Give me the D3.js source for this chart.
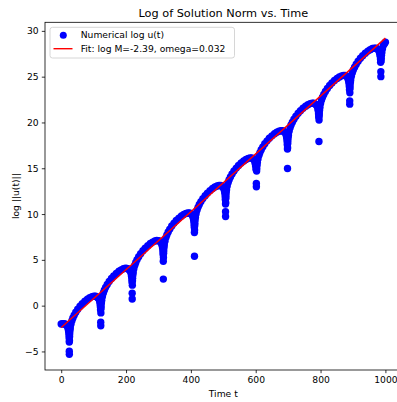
<!DOCTYPE html>
<html><head><meta charset="utf-8">
<script src="https://cdn.jsdelivr.net/npm/d3@7"></script>
<style>body{margin:0;background:#fff}svg{display:block}</style>
</head><body>
<svg id="chart" width="397" height="402"></svg>
<script>
// Sample times t
const timeT = [
  0,4,8,12,15,17,
  20,22,23,23.8,24.3,24.9,24.95,25.05,25.4,25.8,26.2,27,28,30,
  33,36,40,45,51,58,65,73,81,88,95,101,106,110,113,
  117,119,120,120.8,121.3,121.95,122.05,122.4,122.8,123.2,124,125,127,
  130,133,137,142,148,155,162,170,178,185,192,198,203,207,210,
  214,216,217,217.8,218.3,218.95,219.05,219.4,219.8,220.2,221,222,224,
  227,230,234,239,245,252,259,267,275,282,289,295,300,304,307,
  310,312,313,313.8,314.3,314.9,315.05,315.4,315.8,316.2,317,318,320,
  323,326,330,335,341,348,355,363,371,378,385,391,396,400,403,
  406,408,409,409.8,410.3,410.9,411.05,411.4,411.8,412.2,413,414,416,
  419,422,426,431,437,444,451,459,467,474,481,487,492,496,499,
  502,504,505,505.8,506.3,506.9,506.95,507.05,507.4,507.8,508.2,509,510,512,
  515,518,522,527,533,540,547,555,563,570,577,583,588,592,595,
  597,599,600,600.8,601.95,602.05,602.8,603.2,604,605,607,
  610,613,617,622,628,635,642,650,658,665,672,678,683,687,690,
  693,695,696,696.8,697.3,697.9,698.05,698.4,698.8,699.2,700,701,703,
  706,709,713,718,724,731,738,746,754,761,768,774,779,783,786,
  790,792,793,793.8,794.3,795.05,795.4,795.8,796.2,797,798,800,
  803,806,810,815,821,828,835,843,851,858,865,871,876,880,883,
  885,887,888,888.8,889.3,889.95,890.05,890.4,890.8,891.2,892,893,895,
  898,901,905,910,916,923,930,938,946,953,960,966,971,975,978,
  981,983,984,984.8,985.3,985.95,986.05,986.8,987.2,988,989,991,
  994,997,1000
];
// Numerical log ||u(t)|| at those times
const logNorm = [
  -2.0,-1.97,-1.97,-2.0,-2.07,-2.15,
  -2.36,-2.62,-2.85,-3.16,-3.50,-3.98,-4.98,-5.3,-3.83,-3.36,-3.08,-2.73,-2.44,-2.04,
  -1.65,-1.35,-1.04,-0.72,-0.39,-0.07,0.21,0.48,0.71,0.87,0.99,1.04,1.03,0.96,0.86,
  0.68,0.42,0.19,-0.12,-0.46,-1.8,-2.2,-0.79,-0.32,-0.04,0.31,0.60,1.00,
  1.39,1.69,2.00,2.32,2.65,2.97,3.25,3.52,3.75,3.91,4.03,4.08,4.07,4.00,3.90,
  3.71,3.45,3.22,2.91,2.57,1.35,0.73,2.24,2.71,2.99,3.34,3.63,4.03,
  4.42,4.72,5.03,5.35,5.68,6.00,6.28,6.55,6.78,6.94,7.06,7.11,7.10,7.03,6.93,
  6.72,6.46,6.23,5.92,5.58,4.85,2.9,5.25,5.72,6.00,6.35,6.64,7.04,
  7.43,7.73,8.04,8.36,8.69,9.01,9.29,9.56,9.79,9.95,10.07,10.12,10.11,10.04,9.94,
  9.72,9.46,9.23,8.92,8.58,7.98,5.4,8.25,8.72,9.00,9.35,9.64,10.04,
  10.43,10.73,11.04,11.36,11.69,12.01,12.29,12.56,12.79,12.95,13.07,13.12,13.11,13.04,12.94,
  12.73,12.47,12.24,11.93,11.59,11.1,10.25,9.74,11.26,11.73,12.01,12.36,12.65,13.05,
  13.44,13.74,14.05,14.37,14.70,15.02,15.30,15.57,15.80,15.96,16.08,16.13,16.12,16.05,15.95,
  15.70,15.44,15.21,14.90,13.34,12.98,14.70,14.98,15.33,15.62,16.02,
  16.41,16.71,17.02,17.34,17.67,17.99,18.27,18.54,18.77,18.93,19.05,19.10,19.09,19.02,18.92,
  18.71,18.45,18.22,17.91,17.57,17.1,14.97,17.24,17.71,17.99,18.34,18.63,19.03,
  19.42,19.72,20.03,20.35,20.68,21.00,21.28,21.55,21.78,21.94,22.06,22.11,22.10,22.03,21.93,
  21.74,21.48,21.25,20.94,20.60,17.92,20.27,20.74,21.02,21.37,21.66,22.06,
  22.45,22.75,23.06,23.38,23.71,24.03,24.31,24.58,24.81,24.97,25.09,25.14,25.13,25.06,24.96,
  24.72,24.46,24.23,23.92,23.58,22.36,22.0,23.25,23.72,24.00,24.35,24.64,25.04,
  25.43,25.73,26.04,26.36,26.69,27.01,27.29,27.56,27.79,27.95,28.07,28.12,28.11,28.04,27.94,
  27.72,27.46,27.23,26.92,26.58,25.55,25.0,26.72,27.00,27.35,27.64,28.04,
  28.43,28.6,28.75
];
const fitLogM = -2.39;
const fitOmega = 0.0316;
const fitRange = [0, 1000];
const xTicks = [0, 200, 400, 600, 800, 1000];
const yTicks = [-5, 0, 5, 10, 15, 20, 25, 30];
const titleText = "Log of Solution Norm vs. Time";
const xLabelText = "Time t";
const yLabelText = "log ||u(t)||";
const legendLabels = ["Numerical log u(t)", `Fit: log M=${fitLogM.toFixed(2)}, omega=${fitOmega.toFixed(3)}`];

const W = 397, H = 402;
const plot = {left: 45, right: 401.6, top: 22.3, bottom: 370};
const font = "DejaVu Sans, sans-serif";
const svg = d3.select("#chart");

const fitLine = fitRange.map(t => ({t, y: fitLogM + fitOmega * t}));
function padded(ext) { const d = ext[1] - ext[0]; return [ext[0] - 0.05 * d, ext[1] + 0.05 * d]; }
const xExt = d3.extent(timeT.concat(fitRange));
const yExt = d3.extent(logNorm.concat(fitLine.map(d => d.y)));
const x = d3.scaleLinear().domain(padded(xExt)).range([plot.left, plot.right]);
const y = d3.scaleLinear().domain(padded(yExt)).range([plot.bottom, plot.top]);

const pts = timeT.map((t, i) => ({t, v: logNorm[i]}));

const clipId = "plotclip";
svg.append("clipPath").attr("id", clipId).append("rect")
  .attr("x", plot.left).attr("y", plot.top)
  .attr("width", plot.right - plot.left).attr("height", plot.bottom - plot.top);

const g = svg.append("g").attr("clip-path", `url(#${clipId})`);
g.selectAll("circle.pt").data(pts).join("circle").attr("class", "pt")
  .attr("cx", d => x(d.t)).attr("cy", d => y(d.v)).attr("r", 3.7)
  .attr("fill", "#0000ff");
g.append("path").datum(fitLine)
  .attr("d", d3.line().x(d => x(d.t)).y(d => y(d.y)))
  .attr("fill", "none").attr("stroke", "#ff0000").attr("stroke-width", 1.4);

// axes
const fmt = d3.format("d");
const xAxis = svg.append("g").attr("transform", `translate(0,${plot.bottom})`)
  .call(d3.axisBottom(x).tickValues(xTicks).tickFormat(fmt).tickSize(3.2).tickPadding(3.2).tickSizeOuter(0));
const yAxis = svg.append("g").attr("transform", `translate(${plot.left},0)`)
  .call(d3.axisLeft(y).tickValues(yTicks).tickFormat(fmt).tickSize(3.2).tickPadding(3.2).tickSizeOuter(0));
[xAxis, yAxis].forEach(a => {
  a.select(".domain").remove();
  a.selectAll(".tick line").attr("stroke", "#000").attr("stroke-width", 0.8);
  a.selectAll(".tick text").attr("font-family", font).attr("font-size", 9.2).attr("fill", "#000");
});

// spines
const sp = svg.append("g").attr("stroke", "#000").attr("stroke-width", 0.8).attr("fill", "none");
sp.append("rect").attr("x", plot.left).attr("y", plot.top)
  .attr("width", plot.right - plot.left).attr("height", plot.bottom - plot.top);

// title and labels
svg.append("text").attr("x", (plot.left + plot.right) / 2).attr("y", 17)
  .attr("text-anchor", "middle").attr("font-family", font).attr("font-size", 11.3).text(titleText);
svg.append("text").attr("x", (plot.left + plot.right) / 2).attr("y", 397)
  .attr("text-anchor", "middle").attr("font-family", font).attr("font-size", 9.2).text(xLabelText);
svg.append("text").attr("transform", `translate(18.7,${(plot.top + plot.bottom) / 2}) rotate(-90)`)
  .attr("text-anchor", "middle").attr("font-family", font).attr("font-size", 9.2).text(yLabelText);

// legend
const lg = svg.append("g");
lg.append("rect").attr("x", 50).attr("y", 27.3).attr("width", 184.5).attr("height", 30.7)
  .attr("rx", 2.5).attr("fill", "#fff").attr("fill-opacity", 0.8)
  .attr("stroke", "#cccccc").attr("stroke-width", 0.8);
lg.append("circle").attr("cx", 63.3).attr("cy", 35.2).attr("r", 3.5).attr("fill", "#0000ff");
lg.append("line").attr("x1", 53.5).attr("x2", 72.5).attr("y1", 48.7).attr("y2", 48.7)
  .attr("stroke", "#ff0000").attr("stroke-width", 1.4);
[35.2, 48.7].forEach((cy, i) => {
  lg.append("text").attr("x", 80.7).attr("y", cy).attr("dy", "0.35em")
    .attr("font-family", font).attr("font-size", 9.2).text(legendLabels[i]);
});
</script>
</body></html>
